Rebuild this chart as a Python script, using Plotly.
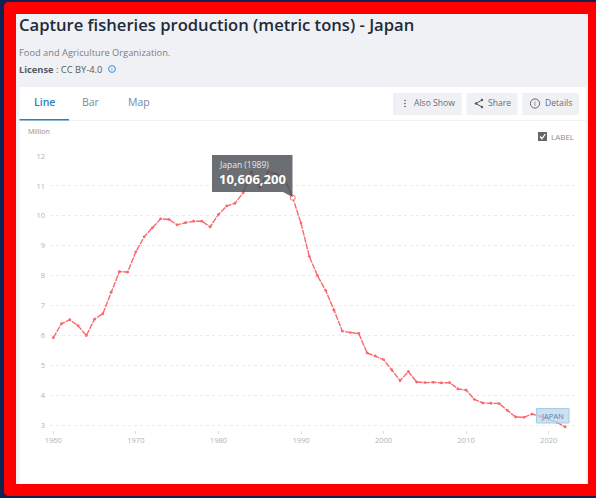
import plotly.graph_objects as go

# ---- data ----
years = list(range(1960, 2023))
production_million = [
    5.93, 6.40, 6.53, 6.33, 6.00, 6.55, 6.73, 7.45, 8.14, 8.12,
    8.80, 9.30, 9.60, 9.90, 9.88, 9.70, 9.77, 9.82, 9.82, 9.63,
    10.05, 10.33, 10.42, 10.77, 11.47, 10.94, 11.47, 11.40, 11.26, 10.6062,
    9.76, 8.65, 8.00, 7.50, 6.85, 6.15, 6.10, 6.07, 5.42, 5.32,
    5.20, 4.85, 4.50, 4.80, 4.45, 4.43, 4.44, 4.42, 4.43, 4.22,
    4.18, 3.87, 3.75, 3.74, 3.73, 3.50, 3.28, 3.27, 3.38, 3.30,
    3.20, 3.10, 2.95,
]
highlight_year = [1989]
highlight_value = [10.6062]
y_ticks = [3, 4, 5, 6, 7, 8, 9, 10, 11, 12]
x_ticks = [1960, 1970, 1980, 1990, 2000, 2010, 2020]

title_text = "Capture fisheries production (metric tons) - Japan"
source_text = "Food and Agriculture Organization."
tooltip_head = "Japan (1989)"
tooltip_value = "10,606,200"

# ---- page geometry (pixels) ----
W, H = 596, 498
FONT = "Open Sans"
PL, PR, PT, PB = 50, 579, 156, 430


def X(px):
    return px / W


def Y(py):
    return 1 - py / H


shapes = []
annotations = []


def rect(x0, y0, x1, y1, fill, line=None, layer="below", lw=1):
    shapes.append(dict(type="rect", xref="paper", yref="paper", x0=X(x0), x1=X(x1), y0=Y(y1), y1=Y(y0),
                       fillcolor=fill, line=dict(color=line or "rgba(0,0,0,0)", width=lw if line else 0), layer=layer))


def text(px, py, s, size=9, color="#666", anchor="left", weight=None):
    annotations.append(dict(xref="paper", yref="paper", x=X(px - 1 if anchor == "left" else px), y=Y(py), text=s,
                            showarrow=False, xanchor=anchor, yanchor="middle",
                            font=dict(family=FONT, size=size, color=color, weight=weight),
                            borderpad=0))


def path(points, color, width=1, fill=None, layer="below", close=False):
    d = "M" + " L".join(f"{X(a)},{Y(b)}" for a, b in points) + (" Z" if close else "")
    shapes.append(dict(type="path", xref="paper", yref="paper", path=d, fillcolor=fill,
                       line=dict(color=color, width=width), layer=layer))


def circle(cx, cy, r, line, fill=None, layer="below", lw=1):
    shapes.append(dict(type="circle", xref="paper", yref="paper", x0=X(cx - r), x1=X(cx + r),
                       y0=Y(cy + r), y1=Y(cy - r), fillcolor=fill,
                       line=dict(color=line, width=lw), layer=layer))


# red frame with rounded left corners
r = 5
frame = (f"M{X(4+r)},{Y(2)} L{X(596)},{Y(2)} L{X(596)},{Y(496)} L{X(4+r)},{Y(496)} "
         f"Q{X(4)},{Y(496)} {X(4)},{Y(496-r)} L{X(4)},{Y(2+r)} Q{X(4)},{Y(2)} {X(4+r)},{Y(2)} Z")
shapes.append(dict(type="path", xref="paper", yref="paper", path=frame, fillcolor="#ff0000",
                   line=dict(width=0), layer="below"))
rect(16, 14, 588, 484, "#eff1f5")
rect(19.5, 87, 586, 484, "#ffffff")
rect(19.5, 120, 586, 121, "#f0f1f3")
rect(19.5, 119, 69, 120.5, "#2a7fc0")

# header
text(19, 24, title_text, size=16.6, color="#1d2b3a", weight=600)
text(19, 53, source_text, size=9.3, color="#7b7f85")
text(19, 69.5, "<b>License</b> : CC BY-4.0", size=9.3, color="#555a60")
circle(112, 69, 3.4, "#3d8fd0", lw=1)
text(112, 69, "i", size=6, color="#3d8fd0", anchor="center")

# tabs
text(44, 102, "Line", size=10.5, color="#2a7fc0", anchor="center", weight=600)
text(91, 102, "Bar", size=10.5, color="#6f8ba6", anchor="center")
text(138.5, 102, "Map", size=10.5, color="#6f8ba6", anchor="center")

# buttons
rect(393, 93, 462, 115, "#eff1f5")
rect(466.5, 93, 517.5, 115, "#eff1f5")
rect(522, 93, 579, 115, "#eff1f5")
for cy in (100.5, 103.5, 106.5):
    circle(405, cy, 0.8, "#555", fill="#555", lw=0)
text(413.7, 103, "Also Show", size=8.6, color="#6a6e73")
path([(482, 100), (476, 103.5), (482, 107)], "#555", width=1)
for cx, cy in ((482, 100), (476, 103.5), (482, 107)):
    circle(cx, cy, 1.2, "#555", fill="#555", lw=0)
text(487.7, 103, "Share", size=8.6, color="#6a6e73")
circle(535, 103.5, 4.6, "#666", lw=1)
text(535, 103.5, "i", size=7, color="#666", anchor="center")
text(544.7, 103, "Details", size=8.6, color="#6a6e73")

# label checkbox
rect(538, 132, 547, 141, "#666666")
path([(540, 136.5), (542, 138.8), (545.3, 134)], "#ffffff", width=1.3)
text(551, 136, "LABEL", size=8, color="#8a8d91")

# unit
text(28, 131.5, "Million", size=7, color="#8a8d91")

# tooltip
rect(212, 155, 292.5, 192, "rgba(70,75,80,0.8)", layer="above")
path([(283, 192), (292.5, 192), (292.5, 197)], "rgba(0,0,0,0)", fill="rgba(70,75,80,0.8)", layer="above", close=True)
text(218.5, 164, tooltip_head, size=8.5, color="#e8eaec")
text(218.7, 179, tooltip_value, size=13, color="#ffffff", weight=700)

# end label
shapes.append(dict(type="rect", xref="paper", yref="paper", x0=X(536.5), x1=X(569), y0=Y(423), y1=Y(408.5),
                   fillcolor="rgba(190,215,235,0.78)", line=dict(color="#a9cce6", width=1), layer="above"))
text(552.7, 416, "JAPAN", size=7.5, color="#4a86b8", anchor="center")

# ---- scales ----
per_unit = (425.4 - 156) / 9
per_year = (548.7 - 53.3) / 60
y_low = 12 - (PB - PT) / per_unit
x_low = 1960 - (53.3 - PL) / per_year
x_high = 2020 + (PR - 548.7) / per_year

fig = go.Figure()
fig.add_trace(go.Scatter(x=years, y=production_million, mode="lines+markers", cliponaxis=False,
                         line=dict(color="#f9686f", width=1.4, dash="6px,1px"),
                         marker=dict(color="#f9686f", size=2.8),
                         name="Japan", showlegend=False))
fig.add_trace(go.Scatter(x=highlight_year, y=highlight_value, mode="markers", cliponaxis=False,
                         marker=dict(color="#ffffff", size=5, line=dict(color="#f9686f", width=1)),
                         showlegend=False))

fig.update_layout(
    width=W, height=H,
    margin=dict(l=0, r=0, t=0, b=0, pad=0, autoexpand=False),
    paper_bgcolor="#10224f",
    plot_bgcolor="rgba(0,0,0,0)",
    font=dict(family=FONT),
    shapes=shapes,
    annotations=annotations,
    xaxis=dict(domain=[PL / W, PR / W], range=[x_low, x_high], tickvals=x_ticks,
               showgrid=False, zeroline=False, showline=False,
               ticks="outside", ticklen=3, tickwidth=1, tickcolor="#dddddd",
               tickfont=dict(size=7.5, color="#b2b2b2", family=FONT)),
    yaxis=dict(domain=[1 - PB / H, 1 - PT / H], range=[y_low, 12], tickvals=y_ticks,
               showgrid=True, gridcolor="#ececec", griddash="3px,3px", gridwidth=1,
               zeroline=False, showline=False, ticks="", ticklabelstandoff=4,
               tickfont=dict(size=7.5, color="#b2b2b2", family=FONT)),
)

fig.write_html("out.html", config=dict(displayModeBar=False),
               post_script="document.body.style.margin='0';document.body.style.overflow='hidden';")
